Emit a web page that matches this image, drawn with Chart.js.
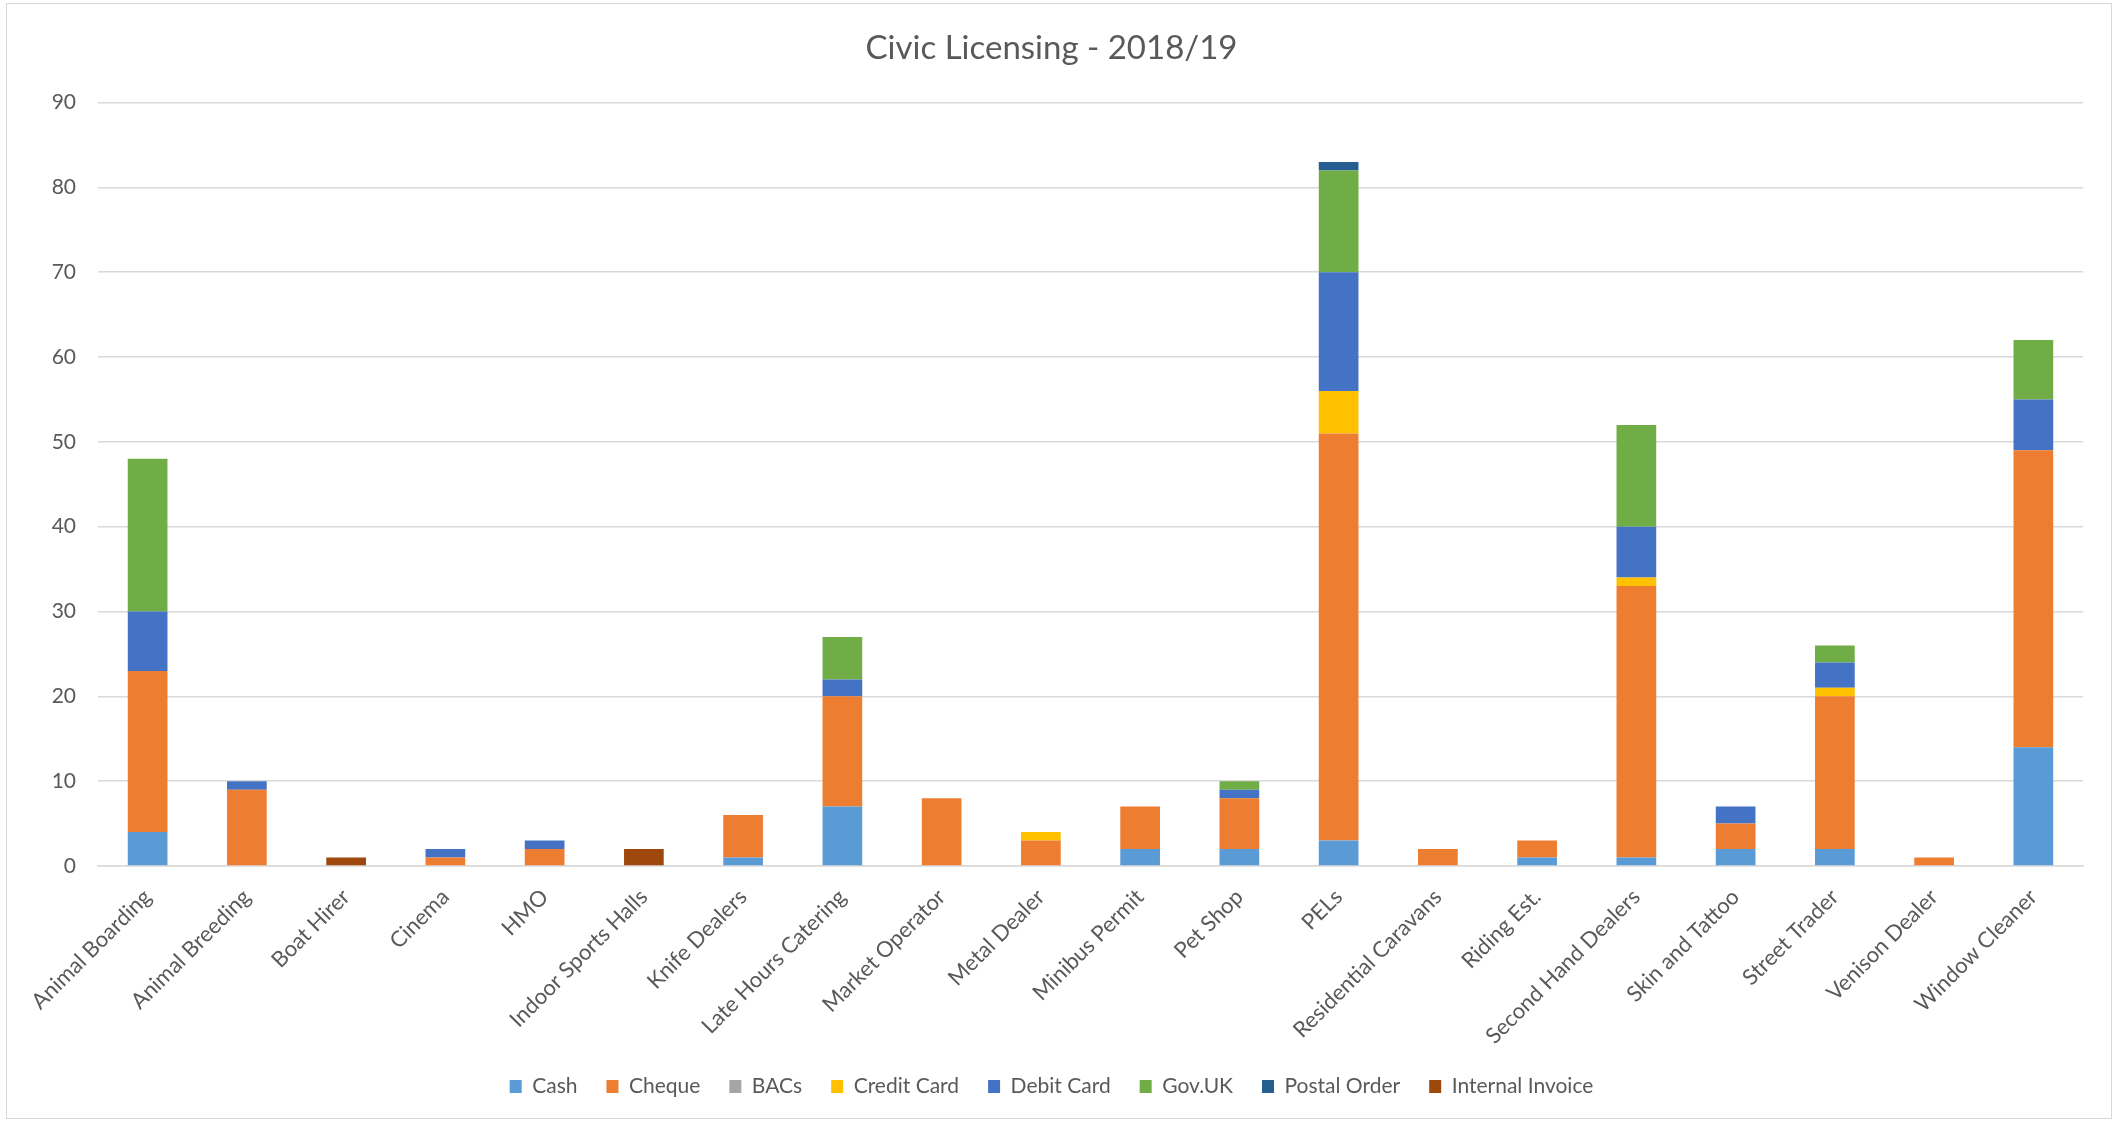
<!DOCTYPE html>
<html>
<head>
<meta charset="utf-8">
<script src="https://cdn.jsdelivr.net/npm/chart.js@4.4.1/dist/chart.umd.min.js"></script>
<style>
  body { margin: 0; overflow: hidden; background: #fff; }
  #wrap { position: relative; width: 2125px; height: 1122px; }
  #frame { position: absolute; left: 6px; top: 3px; width: 2106px; height: 1116px;
           border: 1px solid #d9d9d9; box-sizing: border-box; pointer-events: none; }
</style>
</head>
<body>
<div id="wrap">
  <canvas id="chart" width="2125" height="1122"></canvas>
  <div id="frame"></div>
</div>
<script>

// licence types along the x axis
var categories = ["Animal Boarding", "Animal Breeding", "Boat Hirer", "Cinema", "HMO",
    "Indoor Sports Halls", "Knife Dealers", "Late Hours Catering", "Market Operator",
    "Metal Dealer", "Minibus Permit", "Pet Shop", "PELs", "Residential Caravans",
    "Riding Est.", "Second Hand Dealers", "Skin and Tattoo", "Street Trader",
    "Venison Dealer", "Window Cleaner"];

// payments by method, one value per licence type
var cash            = [4, 0, 0, 0, 0, 0, 1, 7, 0, 0, 2, 2, 3, 0, 1, 1, 2, 2, 0, 14];
var cheque          = [19, 9, 0, 1, 2, 0, 5, 13, 8, 3, 5, 6, 48, 2, 2, 32, 3, 18, 1, 35];
var bacs            = [0, 0, 0, 0, 0, 0, 0, 0, 0, 0, 0, 0, 0, 0, 0, 0, 0, 0, 0, 0];
var creditCard      = [0, 0, 0, 0, 0, 0, 0, 0, 0, 1, 0, 0, 5, 0, 0, 1, 0, 1, 0, 0];
var debitCard       = [7, 1, 0, 1, 1, 0, 0, 2, 0, 0, 0, 1, 14, 0, 0, 6, 2, 3, 0, 6];
var govUk           = [18, 0, 0, 0, 0, 0, 0, 5, 0, 0, 0, 1, 12, 0, 0, 12, 0, 2, 0, 7];
var postalOrder     = [0, 0, 0, 0, 0, 0, 0, 0, 0, 0, 0, 0, 1, 0, 0, 0, 0, 0, 0, 0];
var internalInvoice = [0, 0, 1, 0, 0, 2, 0, 0, 0, 0, 0, 0, 0, 0, 0, 0, 0, 0, 0, 0];

var yTicks = [0, 10, 20, 30, 40, 50, 60, 70, 80, 90];

var textColor = "#595959";
var fontFamily = "Lato, 'Open Sans', sans-serif";

function series(label, data, color)
{
    return {
        label: label,
        data: data,
        backgroundColor: color,
        borderWidth: 0,
        categoryPercentage: 1.0,
        barPercentage: 0.4
    };
}

var ctx = document.getElementById("chart").getContext("2d");
var chart = new Chart(ctx, {
    type: "bar",
    data: {
        labels: categories,
        datasets: [
            series("Cash", cash, "#5B9BD5"),
            series("Cheque", cheque, "#ED7D31"),
            series("BACs", bacs, "#A5A5A5"),
            series("Credit Card", creditCard, "#FFC000"),
            series("Debit Card", debitCard, "#4472C4"),
            series("Gov.UK", govUk, "#70AD47"),
            series("Postal Order", postalOrder, "#255E91"),
            series("Internal Invoice", internalInvoice, "#9E480E")
        ]
    },
    options: {
        responsive: false,
        animation: false,
        layout: { padding: { left: 20, right: 42, top: 0, bottom: 15 } },
        plugins: {
            title: {
                display: true,
                text: "Civic Licensing - 2018/19",
                color: textColor,
                font: { family: fontFamily, size: 33, weight: "normal" },
                padding: { top: 29, bottom: 34 }
            },
            legend: {
                position: "bottom",
                labels: {
                    color: textColor,
                    font: { family: fontFamily, size: 21 },
                    boxWidth: 12,
                    boxHeight: 13,
                    padding: 29
                }
            },
            tooltip: { enabled: false }
        },
        scales: {
            x: {
                stacked: true,
                grid: { display: false },
                border: { color: "#d9d9d9", width: 1.5 },
                ticks: {
                    color: textColor,
                    font: { family: fontFamily, size: 22 },
                    maxRotation: 45,
                    minRotation: 45,
                    autoSkip: false,
                    padding: 10
                },
                afterFit: function(scale) { scale.height = 181; }
            },
            y: {
                stacked: true,
                min: 0,
                max: 90,
                afterBuildTicks: function(scale) {
                    scale.ticks = yTicks.map(function(v) { return { value: v }; });
                },
                grid: { color: "#d9d9d9", lineWidth: 1.5, drawTicks: false },
                border: { display: false },
                ticks: {
                    color: textColor,
                    font: { family: fontFamily, size: 21 },
                    padding: 22
                },
                afterFit: function(scale) { scale.width = 78; }
            }
        }
    }
});
</script>
</body>
</html>
